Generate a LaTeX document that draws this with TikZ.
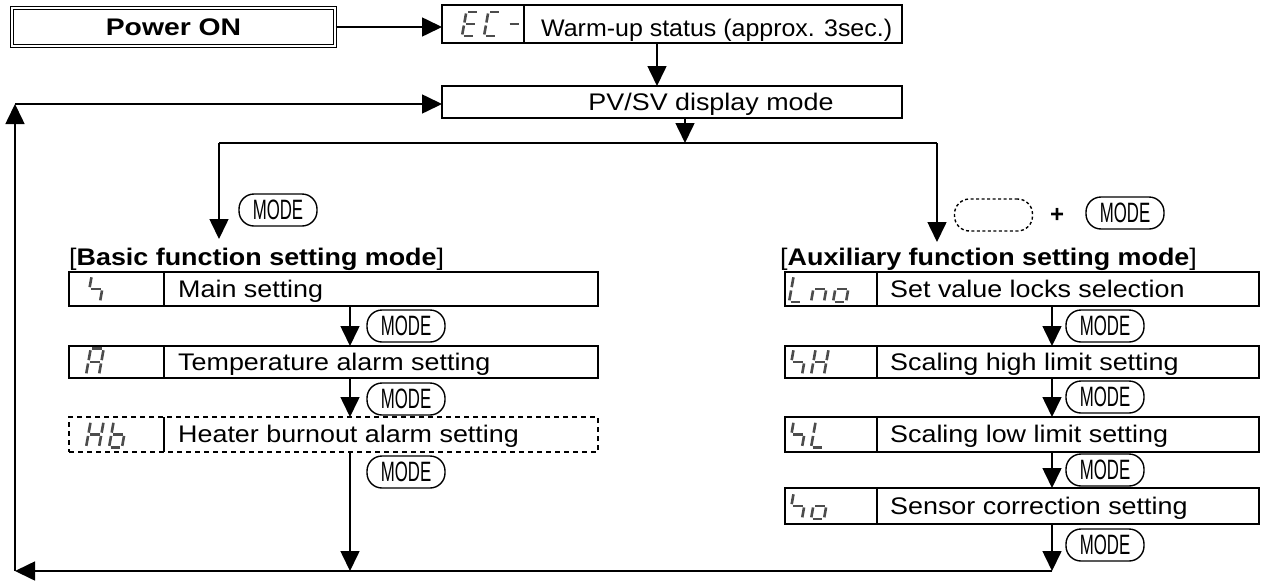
\documentclass[tikz,border=0pt]{standalone}
\usepackage{fontspec}
\setmainfont{Liberation Sans}
\usepackage{graphicx}
\usetikzlibrary{arrows.meta}
\newcommand\SGa{\draw[seg] (1.5,24) -- (10.5,24);}
\newcommand\SGb{\draw[seg] (12,22.5) -- (12,13.5);}
\newcommand\SGc{\draw[seg] (12,10.5) -- (12,1.5);}
\newcommand\SGd{\draw[seg] (1.5,0) -- (10.5,0);}
\newcommand\SGe{\draw[seg] (0,1.5) -- (0,10.5);}
\newcommand\SGf{\draw[seg] (0,13.5) -- (0,22.5);}
\newcommand\SGg{\draw[seg] (1.5,12) -- (10.5,12);}
\newcommand\SevSeg[3]{\begin{scope}[shift={(#1,#2)},x=1pt,y=1pt,xslant=0.18]#3\end{scope}}
\newcommand\SevSegB[3]{\begin{scope}[shift={(#1,#2)},x=1.08pt,y=1.1pt,xslant=0.18]#3\end{scope}}
\newcommand\modetxt{\scalebox{0.6}[1]{MODE}}
\newcommand\sx[1]{\scalebox{1.12}[1]{#1}}
\tikzset{
  box/.style={draw, line width=2.5pt, inner sep=0pt, outer sep=0pt},
  dbox/.style={box, dashed, dash pattern=on 5pt off 4pt},
  divl/.style={line width=2.5pt},
  seg/.style={line width=2.6pt, draw=black!70},
  conn/.style={line width=1.6pt, -{Triangle[length=20pt,width=19pt]}},
  plain/.style={line width=1.6pt},
  txt/.style={anchor=base west, inner sep=0pt},
  modebox/.style={draw, line width=1.4pt, rounded corners=15pt, minimum width=78pt,
    minimum height=32pt, inner sep=0pt, font=\fontsize{28}{28}\selectfont},
}
\begin{document}
\begin{tikzpicture}[x=1pt,y=-1pt,font=\fontsize{24}{28}\selectfont]
\useasboundingbox (0,0) rectangle (1284,581);
% helper coordinates
\coordinate (ecd) at (524,0);
\coordinate (cx1) at (657,0);
\coordinate (pvx) at (685,0);
\coordinate (bd) at (164,0);
\coordinate (ad) at (877,0);
\coordinate (bx) at (350,0);
\coordinate (ax) at (1052,0);
% Power ON
\node[draw, double, double distance=2pt, line width=1.2pt, minimum width=323pt,
  minimum height=38pt, inner sep=0pt] (pon) at (173.5,27) {};
\node[anchor=base, inner sep=0pt, font=\fontsize{24}{28}\selectfont\bfseries] (pont) at (173.5,35) {\scalebox{1.18}[1]{Power ON}};
% EC box
\node[box, minimum width=460pt, minimum height=38pt] (ec) at (672,24) {};
\draw[divl] (ec.north -| ecd) -- (ec.south -| ecd);
\SevSeg{462}{36}{\SGa\SGd\SGe\SGf\SGg}
\SevSeg{484}{36}{\SGa\SGd\SGe\SGf}
\SevSeg{506}{36}{\SGg}
\node[txt] (ect) at (541,36) {\scalebox{1.04}[1]{Warm-up status (approx. 3sec.)}};
% PV box
\node[box, minimum width=460pt, minimum height=32pt] (pv) at (672,102) {};
\node[anchor=base, inner sep=0pt] (pvt) at (711,110) {\sx{PV/SV display mode}};
\draw[conn] (ec.south -| cx1) -- (pv.north -| cx1);
\draw[conn] (pon.east) -- (pon.east -| ec.west);
% branch
\coordinate (br) at (685,143);
\coordinate (bl) at (219,143);
\coordinate (brr) at (937,143);
\coordinate (btip) at (219,239);
\coordinate (atip) at (937,242);
\draw[conn] (pv.south -| pvx) -- (br);
\draw[plain] (bl) -- (brr);
\draw[conn] (bl) -- (btip);
\draw[conn] (brr) -- (atip);
\node[modebox] (m0) at (278,210) {\modetxt};
\node[modebox, dashed, dash pattern=on 3pt off 2.5pt] (blank) at (993.5,215) {};
\node[inner sep=0pt, font=\fontsize{24}{24}\selectfont\bfseries] (plus) at (1057,215) {+};
\node[modebox] (m0a) at (1125,213) {\modetxt};
% headings
\node[txt] (bh) at (69,265) {\sx{[\textbf{Basic function setting mode}]}};
\node[txt] (ah) at (780,265) {\sx{[\textbf{Auxiliary function setting mode}]}};
% basic boxes
\node[box, minimum width=529pt, minimum height=34pt] (b1) at (333.5,289) {};
\node[box, minimum width=529pt, minimum height=32pt] (b2) at (333.5,362) {};
\node[dbox, minimum width=529pt, minimum height=35pt] (b3) at (333.5,434.5) {};
\draw[divl] (b1.north -| bd) -- (b1.south -| bd);
\draw[divl] (b2.north -| bd) -- (b2.south -| bd);
\draw[divl] (b3.north -| bd) -- (b3.south -| bd);
\SevSegB{87}{302}{\SGf\SGg\SGc}
\SevSegB{86}{375}{\SGa\SGb\SGc\SGe\SGf\SGg}
\SevSegB{86}{447.5}{\SGb\SGc\SGe\SGf\SGg}
\SevSegB{109}{447.5}{\SGc\SGd\SGe\SGf\SGg}
\node[txt] (b1t) at (178,297) {\sx{Main setting}};
\node[txt] (b2t) at (178,370) {\sx{Temperature alarm setting}};
\node[txt] (b3t) at (178,442.5) {\sx{Heater burnout alarm setting}};
\draw[conn] (b1.south -| bx) -- (b2.north -| bx);
\draw[conn] (b2.south -| bx) -- (b3.north -| bx);
\node[modebox] (m1) at (406,326) {\modetxt};
\node[modebox] (m2) at (406,399) {\modetxt};
\node[modebox] (m3) at (406,472) {\modetxt};
% aux boxes
\node[box, minimum width=474pt, minimum height=34pt] (a1) at (1022,289) {};
\node[box, minimum width=474pt, minimum height=32pt] (a2) at (1022,362) {};
\node[box, minimum width=474pt, minimum height=35pt] (a3) at (1022,434.5) {};
\node[box, minimum width=474pt, minimum height=36pt] (a4) at (1022,506) {};
\draw[divl] (a1.north -| ad) -- (a1.south -| ad);
\draw[divl] (a2.north -| ad) -- (a2.south -| ad);
\draw[divl] (a3.north -| ad) -- (a3.south -| ad);
\draw[divl] (a4.north -| ad) -- (a4.south -| ad);
\SevSegB{789}{302}{\SGd\SGe\SGf}
\SevSegB{811}{302}{\SGc\SGe\SGg}
\SevSegB{833}{302}{\SGc\SGd\SGe\SGg}
\SevSegB{789}{375}{\SGf\SGg\SGc}
\SevSegB{811}{375}{\SGb\SGc\SGe\SGf\SGg}
\SevSegB{789}{447.5}{\SGf\SGg\SGc}
\SevSegB{811}{447.5}{\SGd\SGe\SGf}
\SevSegB{789}{519}{\SGf\SGg\SGc}
\SevSegB{811}{519}{\SGc\SGd\SGe\SGg}
\node[txt] (a1t) at (890,297) {\sx{Set value locks selection}};
\node[txt] (a2t) at (890,370) {\sx{Scaling high limit setting}};
\node[txt] (a3t) at (890,442.5) {\sx{Scaling low limit setting}};
\node[txt] (a4t) at (890,514) {\sx{Sensor correction setting}};
\draw[conn] (a1.south -| ax) -- (a2.north -| ax);
\draw[conn] (a2.south -| ax) -- (a3.north -| ax);
\draw[conn] (a3.south -| ax) -- (a4.north -| ax);
\node[modebox] (n1) at (1105,326) {\modetxt};
\node[modebox] (n2) at (1105,397) {\modetxt};
\node[modebox] (n3) at (1105,470) {\modetxt};
\node[modebox] (n4) at (1105,545) {\modetxt};
% return loop
\coordinate (bot) at (15,571);
\coordinate (lt) at (15,104);
\draw[conn] (b3.south -| bx) -- (bx |- bot);
\draw[conn] (a4.south -| ax) -- (ax |- bot);
\draw[conn] (ax |- bot) -- (bot);
\draw[conn] (bot) -- (lt);
\draw[conn] (lt) -- (lt -| pv.west);
\end{tikzpicture}
\end{document}
